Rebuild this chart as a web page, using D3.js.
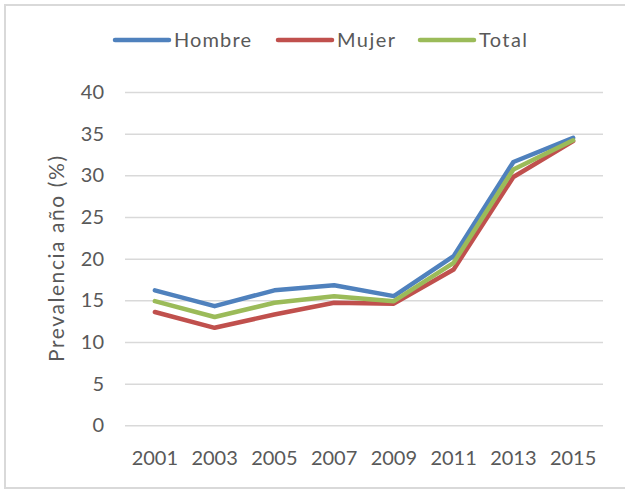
<!DOCTYPE html>
<html>
<head>
<meta charset="utf-8">
<script src="https://cdn.jsdelivr.net/npm/d3@7"></script>
<style>
  body { margin: 0; background: #fff; }
  svg { display: block; }
</style>
</head>
<body>
<svg id="chart"></svg>
<script>
// years on the x axis
const years = ["2001", "2003", "2005", "2007", "2009", "2011", "2013", "2015"];

// prevalence per year (%)
const hombre = [16.2, 14.3, 16.2, 16.8, 15.5, 20.3, 31.6, 34.5];
const mujer = [13.6, 11.7, 13.3, 14.7, 14.6, 18.7, 29.8, 34.1];
const total = [14.9, 13.0, 14.7, 15.5, 14.9, 19.5, 30.7, 34.2];

const seriesNames = ["Hombre", "Mujer", "Total"];
const seriesColors = ["#4F81BD", "#C0504D", "#9BBB59"];
const yTicks = [0, 5, 10, 15, 20, 25, 30, 35, 40];

const width = 625, height = 490;
const margin = {top: 92, right: 22, bottom: 65, left: 125};

const svg = d3.select("#chart")
    .attr("width", width)
    .attr("height", height)
    .attr("viewBox", [0, 0, width, height]);

// outer frame of the chart
svg.append("rect")
    .attr("x", 5).attr("y", 5)
    .attr("width", width + 10).attr("height", height - 7)
    .attr("fill", "none")
    .attr("stroke", "#d9d9d9")
    .attr("stroke-width", 2);

const x = d3.scaleBand()
    .domain(years)
    .range([margin.left, width - margin.right])
    .padding(0);

const y = d3.scaleLinear()
    .domain([0, 40])
    .range([height - margin.bottom + 0.3, margin.top]);

const font = "Lato, 'Open Sans', sans-serif";
const textColor = "#595959";

// y axis with gridlines
const yAxis = svg.append("g")
    .attr("transform", `translate(${margin.left},0)`)
    .call(d3.axisLeft(y)
        .tickValues(yTicks)
        .tickSize(-(width - margin.left - margin.right))
        .tickPadding(21));
yAxis.select(".domain").remove();
yAxis.selectAll("line")
    .attr("stroke", "#d9d9d9")
    .attr("stroke-width", 1.5);
yAxis.selectAll("text")
    .attr("fill", textColor)
    .attr("font-size", "20px")
    .attr("font-family", font);

// x axis
const xAxis = svg.append("g")
    .attr("transform", `translate(0,${y(0)})`)
    .call(d3.axisBottom(x).tickSize(0).tickPadding(25.5));
xAxis.select(".domain").remove();
xAxis.selectAll("text")
    .attr("fill", textColor)
    .attr("font-size", "20px")
    .attr("font-family", font);

// y axis title
svg.append("text")
    .attr("transform", `translate(64,259) rotate(-90)`)
    .attr("text-anchor", "middle")
    .attr("fill", textColor)
    .attr("font-size", "21px")
    .attr("font-family", font)
    .attr("textLength", 206)
    .attr("lengthAdjust", "spacing")
    .text("Prevalencia año (%)");

const series = [hombre, mujer, total];
const line = d3.line()
    .x((d, i) => x(years[i]) + x.bandwidth() / 2)
    .y(d => y(d));

svg.append("g")
    .selectAll("path")
    .data(series)
    .join("path")
    .attr("d", line)
    .attr("fill", "none")
    .attr("stroke", (d, i) => seriesColors[i])
    .attr("stroke-width", 4.5)
    .attr("stroke-linejoin", "round")
    .attr("stroke-linecap", "round");

// legend
const legendX = [115, 278, 420];
const legendLen = [77, 58, 48];
const legend = svg.append("g")
    .selectAll("g")
    .data(seriesNames)
    .join("g")
    .attr("transform", (d, i) => `translate(${legendX[i]},40)`);
legend.append("line")
    .attr("x1", 0).attr("x2", 54)
    .attr("stroke", (d, i) => seriesColors[i])
    .attr("stroke-width", 4.5)
    .attr("stroke-linecap", "round");
legend.append("text")
    .attr("x", 59)
    .attr("dy", "0.36em")
    .attr("fill", textColor)
    .attr("font-size", "20px")
    .attr("font-family", font)
    .attr("textLength", (d, i) => legendLen[i])
    .attr("lengthAdjust", "spacing")
    .text(d => d);
</script>
</body>
</html>
